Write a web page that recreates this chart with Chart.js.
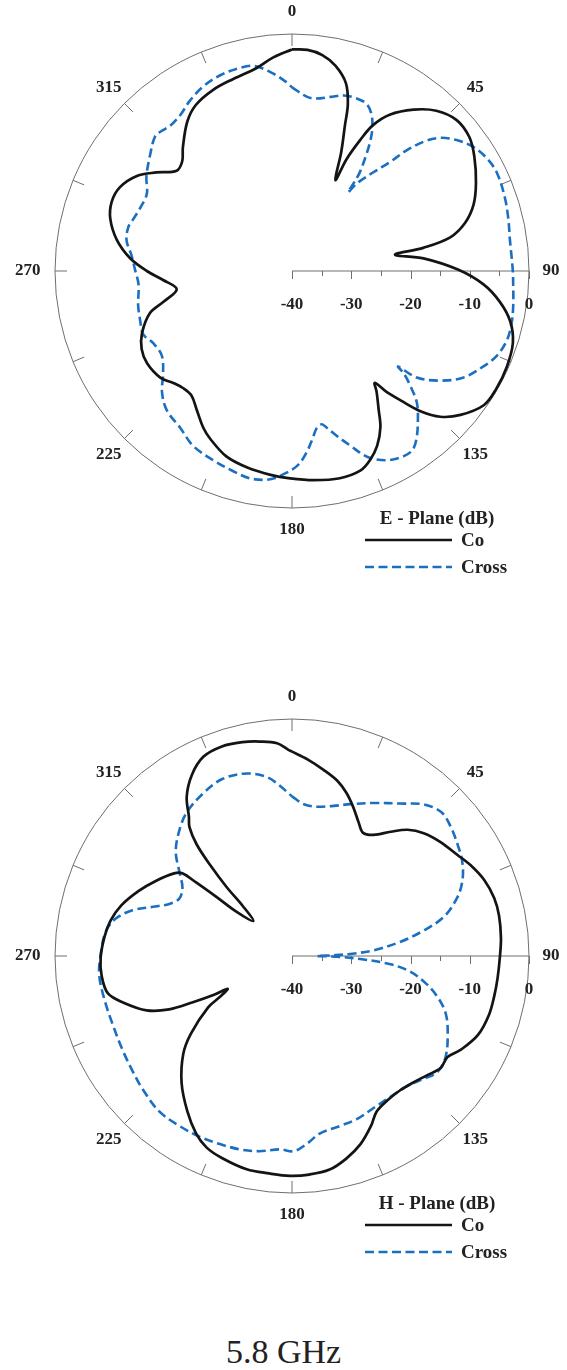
<!DOCTYPE html>
<html>
<head>
<meta charset="utf-8">
<title>Radiation pattern 5.8 GHz</title>
<script src="https://cdn.jsdelivr.net/npm/chart.js@4.4.1/dist/chart.umd.min.js"></script>
<style>
  html, body { margin: 0; padding: 0; background: #fff; }
  body { width: 567px; height: 1370px; position: relative; overflow: hidden; }
  .plot { position: absolute; left: 0; width: 567px; height: 600px; }
  #freq {
    position: absolute; left: 0; width: 567px; top: 1333px;
    text-align: center; line-height: 1;
    font: 34px "Liberation Serif", "Times New Roman", serif; color: #222;
  }
</style>
</head>
<body>
<div class="plot" style="top:0"><canvas id="ePlane" width="567" height="600"></canvas></div>
<div class="plot" style="top:685px"><canvas id="hPlane" width="567" height="600"></canvas></div>
<div id="freq">5.8 GHz</div>
<script>
// dB range of the radial axis: -40 at the centre, 0 on the outer circle
const DB_MIN = -40;
const DB_MAX = 0;

const angleLabels = [0, 45, 90, 135, 180, 225, 270, 315];
const angleTicks = [0, 22.5, 45, 67.5, 90, 112.5, 135, 157.5, 180, 202.5, 225, 247.5, 270, 292.5, 315, 337.5];
const radialLabels = [-40, -30, -20, -10, 0];
const radialTicks = [-40, -35, -30, -25, -20, -15, -10, -5, 0];
const seriesNames = ['Co', 'Cross'];

// E - plane, co-polar (angle in degrees, level in dB)
const eCoAngle = [0, 4, 8, 12, 16, 18.5, 20, 22.5, 25.5, 26, 27.5, 29, 32, 37, 42, 47.5, 53, 58, 64.5, 70,
  74.5, 78, 80, 81, 84.5, 89.5, 94, 98.5, 103, 108, 114, 120, 125, 130.5, 134.5, 137.5, 140, 142, 143.5, 145,
  148, 150.5, 154, 157.5, 161, 167, 174, 180.5, 186, 193, 199.5, 206, 209.5, 214.5, 219, 223, 226.5, 231, 237.5, 242.5,
  247.5, 253.5, 256.5, 261, 266, 270, 274.5, 280, 286, 291, 296, 301.5, 306, 311, 315, 318.5, 325, 330, 336.5, 343,
  350, 355, 360];
const eCoDb = [-2.6, -2.6, -3.2, -4.6, -7.0, -10.3, -13.9, -18.3, -23.0, -19.0, -15.1, -11.9, -8.9, -5.9, -3.6, -2.3, -2.5, -3.7, -5.6, -7.4,
  -9.7, -12.7, -17.5, -22.4, -17.7, -12.0, -7.6, -4.5, -2.2, -0.8, -0.3, -0.2, -0.5, -2.6, -4.9, -7.9, -11.5, -14.1, -16.5, -15.1,
  -12.4, -9.7, -7.2, -5.5, -4.4, -4.1, -4.5, -5.0, -5.4, -6.0, -6.8, -8.5, -9.6, -11.6, -13.0, -13.0, -12.5, -11.4, -11.0, -11.4,
  -12.6, -15.0, -17.7, -20.3, -18.2, -15.5, -12.6, -10.0, -8.1, -7.4, -7.7, -9.3, -11.7, -14.2, -13.8, -12.2, -9.2, -7.6, -6.65, -6.1,
  -5.25, -3.8, -2.6];

// E - plane, cross-polar
const eCrossAngle = [0, 5, 8, 12.5, 16.5, 20.5, 24, 27, 29.5, 31, 32.5, 34.5, 35, 35.5, 36.5, 39.5, 42, 43.5, 45.5, 48,
  51.5, 55.5, 60, 64.5, 71, 76.5, 82, 89.5, 93.5, 99, 103.5, 108, 112.5, 116.5, 122, 126.5, 130.5, 132, 132.5, 134,
  136.5, 140, 143.5, 146, 149, 153.5, 158, 161.5, 165, 167.5, 169, 171, 173, 175.5, 178.5, 183.5, 187, 191.5, 196.5, 202.5,
  209.5, 215.5, 222, 227, 231.5, 237, 242.5, 247, 252, 257.5, 265, 270.5, 275.5, 280.5, 285, 288, 292.5, 298, 303, 309.5,
  314.5, 317, 320, 324.5, 329, 334.5, 340, 345.5, 349.5, 354.5, 358.5, 360];
const eCrossDb = [-9.0, -10.5, -10.6, -9.9, -9.1, -8.9, -9.1, -10.4, -12.5, -14.3, -16.6, -19.8, -21.5, -23.7, -21.6, -18.4, -15.2, -12.0, -8.9, -6.4,
  -4.5, -2.95, -2.0, -1.65, -2.0, -2.45, -2.85, -2.75, -2.6, -2.2, -1.9, -1.9, -2.6, -3.9, -6.0, -8.9, -12.3, -15.9, -14.4, -12.35,
  -9.4, -6.95, -4.7, -3.6, -3.5, -4.3, -6.2, -8.9, -11.3, -12.9, -13.65, -13.2, -11.5, -9.2, -7.1, -5.3, -4.5, -4.3, -4.8, -5.4,
  -6.1, -7.5, -8.4, -10.0, -12.2, -13.8, -13.6, -12.7, -13.05, -13.4, -14.0, -13.5, -12.8, -11.6, -11.4, -11.8, -12.25, -12.25, -10.7, -9.0,
  -7.6, -7.7, -8.0, -7.6, -6.5, -5.4, -4.8, -4.6, -4.8, -6.5, -8.2, -9.0];

// H - plane, co-polar
const hCoAngle = [0, 4.5, 9.5, 14.5, 18.5, 22.5, 26.5, 30, 34, 38.5, 42.5, 47, 52.5, 58.5, 63, 68.5, 74, 79, 85, 90,
  96, 101, 106.5, 113, 119, 123, 127, 131.5, 136, 141, 146.5, 151.5, 155, 160, 165, 170, 175.5, 180.5, 186, 192,
  199, 204, 208.5, 214, 221, 228, 232.5, 238.5, 240.5, 243, 243.5, 245, 246.5, 249.5, 254.5, 258.5, 264, 269.5, 276, 281,
  286.5, 293, 299, 305, 307, 307.5, 308, 308.5, 312, 315.5, 316.5, 318, 319.5, 321.5, 323.5, 326.5, 331, 336, 341.5, 347,
  351.5, 356, 359, 360];
const hCoDb = [-5.5, -6.7, -8.1, -9.45, -11.0, -12.9, -14.8, -16.0, -15.35, -13.2, -11.1, -9.6, -8.4, -7.3, -6.2, -5.1, -4.5, -4.4, -4.6, -4.9,
  -5.1, -5.2, -5.3, -5.9, -7.4, -8.7, -8.6, -9.6, -10.4, -10.9, -10.8, -10.1, -8.4, -6.2, -4.6, -3.4, -3.0, -2.9, -3.1, -3.2,
  -3.9, -4.6, -6.0, -8.4, -11.6, -15.3, -18.5, -23.4, -26.1, -27.8, -25.3, -21.4, -17.4, -13.8, -10.5, -8.3, -7.7, -7.7, -8.2, -8.8,
  -9.95, -11.9, -13.8, -15.7, -16.8, -19.6, -23.8, -28.0, -31.2, -28.1, -24.0, -19.4, -15.2, -12.2, -10.75, -7.8, -5.1, -3.2, -2.7, -2.95,
  -3.4, -4.0, -5.2, -5.5];

// H - plane, cross-polar
const hCrossAngle = [0, 4.5, 9.5, 15.5, 21, 28, 35.5, 41, 46, 50.5, 56, 61, 66, 70.5, 75.5, 79, 82.5, 86, 88, 89,
  90, 91, 92.5, 94.5, 97, 101, 105.5, 110.5, 117, 123.5, 128.5, 133, 138.5, 145, 151.5, 158, 164, 171, 175.5, 179.5,
  183.5, 189.5, 195, 201, 207, 213.5, 220.5, 228, 234, 241, 249, 257, 264.5, 271, 277.5, 282, 286, 289.5, 293, 297,
  302, 306.5, 312, 318.5, 324, 331.5, 338.5, 346, 352, 356, 359.5, 360];
const hCrossDb = [-13.05, -14.3, -14.45, -13.7, -12.55, -10.75, -8.4, -6.1, -5.0, -5.4, -6.3, -7.15, -8.5, -10.4, -13.5, -17.3, -21.5, -26.2, -30.2, -33.0,
  -35.8, -31.9, -28.5, -23.9, -20.4, -17.3, -14.6, -12.3, -10.5, -8.95, -8.6, -9.6, -10.7, -11.0, -10.9, -10.4, -10.2, -9.7, -8.2, -7.05,
  -7.3, -6.6, -6.2, -6.0, -5.75, -5.6, -5.5, -6.2, -6.8, -7.3, -7.6, -7.5, -7.3, -7.75, -8.3, -9.6, -12.0, -15.1, -17.5, -18.65,
  -18.2, -16.4, -13.6, -11.4, -9.9, -8.7, -7.9, -8.25, -9.5, -11.25, -12.85, -13.05];

const CO_COLOR = '#141414';
const CROSS_COLOR = '#1b6fc2';
const FRAME_COLOR = '#6e6e6e';
const TEXT_COLOR = '#222';
const LABEL_FONT = 'bold 17px "Liberation Serif", "Times New Roman", serif';
const LEGEND_FONT = 'bold 19px "Liberation Serif", "Times New Roman", serif';

const SPAN = DB_MAX - DB_MIN;

// polar (angle clockwise from top, dB) -> x/y values for the linear scales
function polar(angles, dbs) {
  return angles.map((a, i) => {
    const r = Math.max(dbs[i], DB_MIN) - DB_MIN;
    const t = a * Math.PI / 180;
    return { x: r * Math.sin(t), y: r * Math.cos(t) };
  });
}

// frame, ticks, labels and legend of a polar plot
const polarFrame = {
  id: 'polarFrame',
  beforeDatasetsDraw(chart) {
    const { ctx, scales: { x, y } } = chart;
    const cx = x.getPixelForValue(0), cy = y.getPixelForValue(0);
    const R = x.getPixelForValue(SPAN) - cx;
    const at = (deg, r) => {
      const t = deg * Math.PI / 180;
      return [x.getPixelForValue(r * Math.sin(t)), y.getPixelForValue(r * Math.cos(t))];
    };

    ctx.save();
    ctx.strokeStyle = FRAME_COLOR;
    ctx.lineWidth = 1;
    ctx.beginPath();
    ctx.arc(cx, cy, R, 0, Math.PI * 2);
    ctx.stroke();

    // short inward ticks on the circle
    const tickLen = 12 * SPAN / R;
    ctx.beginPath();
    angleTicks.forEach(a => {
      if (a === 90) return;
      const p1 = at(a, SPAN), p2 = at(a, SPAN - tickLen);
      ctx.moveTo(p1[0], p1[1]);
      ctx.lineTo(p2[0], p2[1]);
    });
    ctx.stroke();

    // radial axis from the centre to 90 deg
    ctx.beginPath();
    ctx.moveTo(cx, cy);
    ctx.lineTo(x.getPixelForValue(SPAN), cy);
    radialTicks.forEach(v => {
      const px = Math.round(x.getPixelForValue(v - DB_MIN)) + 0.5;
      const len = v % 10 === 0 ? 8 : 5;
      ctx.moveTo(px, cy);
      ctx.lineTo(px, cy + len);
    });
    ctx.stroke();

    ctx.fillStyle = TEXT_COLOR;
    ctx.font = LABEL_FONT;
    ctx.textAlign = 'center';
    ctx.textBaseline = 'middle';
    radialLabels.forEach(v => {
      ctx.fillText(String(v), x.getPixelForValue(v - DB_MIN), cy + 34);
    });

    const labelR = SPAN * (R + 22) / R;
    angleLabels.forEach(a => {
      const p = at(a, a === 270 ? labelR + 0.9 : labelR);
      ctx.fillText(String(a), p[0], p[1]);
    });
    ctx.restore();
  },
  afterDraw(chart, args, opts) {
    const { ctx, scales: { x, y } } = chart;
    const cx = x.getPixelForValue(0), cy = y.getPixelForValue(0);
    ctx.save();
    ctx.fillStyle = TEXT_COLOR;
    ctx.font = LEGEND_FONT;
    ctx.textBaseline = 'middle';
    ctx.textAlign = 'center';
    ctx.fillText(opts.title, cx + 145, cy + 248);
    ctx.textAlign = 'left';
    chart.data.datasets.forEach((ds, i) => {
      const ly = cy + 269 + i * 27;
      ctx.strokeStyle = ds.borderColor;
      ctx.lineWidth = ds.borderWidth;
      ctx.setLineDash(ds.borderDash || []);
      ctx.beginPath();
      ctx.moveTo(cx + 73, ly);
      ctx.lineTo(cx + 160, ly);
      ctx.stroke();
      ctx.fillText(ds.label, cx + 169, ly + 1);
    });
    ctx.restore();
  }
};

function makePlot(canvasId, title, coAngle, coDb, crossAngle, crossDb) {
  return new Chart(document.getElementById(canvasId), {
    type: 'scatter',
    data: {
      datasets: [
        {
          label: seriesNames[0],
          data: polar(coAngle, coDb),
          showLine: true,
          borderColor: CO_COLOR,
          borderWidth: 2.7,
          pointRadius: 0,
          tension: 0.35,
          clip: false
        },
        {
          label: seriesNames[1],
          data: polar(crossAngle, crossDb),
          showLine: true,
          borderColor: CROSS_COLOR,
          borderWidth: 2.6,
          borderDash: [9, 4.5],
          pointRadius: 0,
          tension: 0.35,
          clip: false
        }
      ]
    },
    options: {
      responsive: false,
      animation: false,
      events: [],
      layout: { padding: { left: 55, right: 38, top: 34, bottom: 92 } },
      scales: {
        x: { type: 'linear', min: -SPAN, max: SPAN, display: false },
        y: { type: 'linear', min: -SPAN, max: SPAN, display: false }
      },
      plugins: {
        legend: { display: false },
        tooltip: { enabled: false },
        polarFrame: { title: title }
      }
    },
    plugins: [polarFrame]
  });
}

makePlot('ePlane', 'E - Plane (dB)', eCoAngle, eCoDb, eCrossAngle, eCrossDb);
makePlot('hPlane', 'H - Plane (dB)', hCoAngle, hCoDb, hCrossAngle, hCrossDb);
</script>
</body>
</html>
